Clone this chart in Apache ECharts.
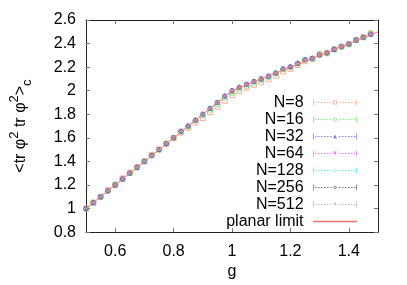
<!DOCTYPE html>
<html>
<head>
<meta charset="utf-8">
<script src="https://cdn.jsdelivr.net/npm/echarts@6/dist/echarts.min.js"></script>
<style>html,body{margin:0;padding:0;background:#fff}#c{width:407px;height:285px}</style>
</head>
<body>
<div id="c"></div>
<script>
// ---- data ----
const gValues = [0.5,0.525,0.55,0.575,0.6,0.625,0.65,0.675,0.7,0.725,0.75,0.775,0.8,0.825,0.85,0.875,0.9,0.925,0.95,0.975,
                 1.0,1.025,1.05,1.075,1.1,1.125,1.15,1.175,1.2,1.225,1.25,1.275,1.3,1.325,1.35,1.375,1.4,1.425,1.45,1.475];
const seriesNames = ['N=8','N=16','N=32','N=64','N=128','N=256','N=512'];
const n8   = [1.000,1.050,1.100,1.155,1.200,1.255,1.305,1.350,1.400,1.455,1.500,1.550,1.598,1.645,1.685,1.730,1.768,1.818,1.865,1.915,
              1.962,1.995,2.025,2.050,2.075,2.098,2.128,2.162,2.185,2.218,2.250,2.270,2.310,2.318,2.350,2.375,2.395,2.430,2.455,2.485];
const n16  = [1.000,1.052,1.098,1.150,1.205,1.250,1.300,1.348,1.402,1.450,1.500,1.552,1.600,1.652,1.695,1.745,1.790,1.838,1.885,1.938,
              1.980,2.012,2.040,2.066,2.092,2.115,2.148,2.180,2.200,2.230,2.262,2.272,2.305,2.318,2.350,2.372,2.395,2.428,2.452,2.488];
const n32  = [1.000,1.050,1.100,1.150,1.200,1.250,1.302,1.350,1.400,1.452,1.500,1.552,1.602,1.655,1.702,1.752,1.802,1.852,1.902,1.955,
              1.998,2.028,2.055,2.080,2.100,2.125,2.150,2.188,2.205,2.232,2.265,2.278,2.305,2.325,2.350,2.380,2.398,2.430,2.455,2.478];
const n64  = [1.000,1.050,1.100,1.150,1.200,1.252,1.300,1.350,1.400,1.450,1.500,1.550,1.600,1.655,1.700,1.750,1.800,1.850,1.900,1.952,
              2.000,2.028,2.053,2.078,2.102,2.122,2.148,2.185,2.200,2.230,2.262,2.272,2.300,2.318,2.350,2.372,2.395,2.432,2.452,2.478];
const n128 = [1.000,1.050,1.100,1.148,1.200,1.248,1.300,1.350,1.400,1.450,1.500,1.550,1.600,1.652,1.700,1.750,1.800,1.850,1.900,1.955,
              2.000,2.030,2.055,2.078,2.100,2.125,2.152,2.188,2.205,2.235,2.265,2.275,2.302,2.322,2.355,2.375,2.398,2.432,2.450,2.475];
const n256 = [1.000,1.050,1.100,1.150,1.200,1.250,1.300,1.350,1.400,1.450,1.500,1.550,1.600,1.655,1.700,1.750,1.800,1.850,1.900,1.955,
              2.000,2.030,2.055,2.078,2.100,2.122,2.150,2.185,2.203,2.232,2.262,2.275,2.303,2.320,2.352,2.373,2.396,2.430,2.453,2.480];
const n512 = [1.000,1.050,1.100,1.150,1.200,1.250,1.300,1.350,1.400,1.450,1.500,1.550,1.600,1.655,1.700,1.750,1.800,1.850,1.900,1.955,
              2.000,2.030,2.055,2.078,2.100,2.122,2.150,2.185,2.203,2.232,2.262,2.275,2.303,2.320,2.352,2.373,2.396,2.430,2.453,2.480];
const planarG = [0.5,0.6,0.7,0.8,0.9,1.0,1.1,1.2,1.3,1.4,1.5];
const planarV = [1.0,1.2,1.4,1.6,1.8,2.0,2.1,2.2,2.3,2.4,2.5];
const xTicks = [0.6,0.8,1.0,1.2,1.4];
const yTicks = [0.8,1.0,1.2,1.4,1.6,1.8,2.0,2.2,2.4,2.6];

// ---- styling ----
const colors = ['#ff9a7a','#55ee55','#6060ff','#ff55ff','#33eeee','#555555','#aaaaaa'];
const planarColor = '#ff7070';
const font = 'Liberation Sans, Arial, sans-serif';
const xPath = 'path://M0,0.8L0.8,0L5,4.2L9.2,0L10,0.8L5.8,5L10,9.2L9.2,10L5,5.8L0.8,10L0,9.2L4.2,5z';
const symbols = [
  {symbol:'rect', size:5, hollow:true},
  {symbol:'circle', size:5, hollow:true},
  {symbol:'triangle', size:5, hollow:false},
  {symbol:'triangle', size:5, hollow:false, rotate:180},
  {symbol:'circle', size:4, hollow:true},
  {symbol:'diamond', size:5, hollow:true},
  {symbol:xPath, size:4, hollow:false}
];
const markerPaths = [
  'M20,1h4v4h-4zM20.8,1.8v2.4h2.4v-2.4z',
  'M20,3a2,2 0 1,0 4,0a2,2 0 1,0 -4,0zM20.8,3a1.2,1.2 0 1,1 2.4,0a1.2,1.2 0 1,1 -2.4,0z',
  'M22,1l2,4h-4z',
  'M20,1h4l-2,4z',
  'M20.4,3a1.6,1.6 0 1,0 3.2,0a1.6,1.6 0 1,0 -3.2,0zM21.1,3a0.9,0.9 0 1,1 1.8,0a0.9,0.9 0 1,1 -1.8,0z',
  'M22,1l2,2l-2,2l-2,-2zM22,1.9l-1.1,1.1l1.1,1.1l1.1,-1.1z',
  'M20.4,1.4l0.6,-0.6l1,1l1,-1l0.6,0.6l-1,1l1,1l-0.6,0.6l-1,-1l-1,1l-0.6,-0.6l1,-1z'
];
function legendIcon(marker) {
  let p = 'M0,0h0.8v6h-0.8zM43.2,0h0.8v6h-0.8z';
  for (let x = 2; x < 42; x += 3) {
    if (x > 17 && x < 25) continue;
    p += 'M' + x + ',2.6h1.5v0.8h-1.5z';
  }
  return 'path://' + p + marker;
}
const allValues = [n8,n16,n32,n64,n128,n256,n512];

const series = allValues.map((vals, i) => {
  const s = symbols[i];
  return {
    name: seriesNames[i],
    type: 'scatter',
    data: gValues.map((g, k) => [g, vals[k]]),
    symbol: s.symbol,
    symbolSize: s.size,
    symbolRotate: s.rotate || 0,
    itemStyle: s.hollow
      ? {color: 'rgba(255,255,255,0)', borderColor: colors[i], borderWidth: 1}
      : {color: colors[i], borderWidth: 0},
    emphasis: {disabled: true},
    z: 2 + i
  };
});
series.push({
  name: 'planar limit',
  type: 'line',
  data: planarG.map((g, k) => [g, planarV[k]]),
  showSymbol: false,
  symbol: 'none',
  color: planarColor,
  lineStyle: {color: planarColor, width: 1},
  itemStyle: {color: planarColor},
  emphasis: {disabled: true},
  z: 20
});

const legendData = seriesNames.map((n, i) => ({
  name: n,
  icon: legendIcon(markerPaths[i]),
  itemStyle: {color: colors[i], borderWidth: 0}
}));
legendData.push({
  name: 'planar limit',
  icon: 'path://M0,2.3h44v1.4h-44z',
  itemStyle: {color: planarColor, borderWidth: 0},
  lineStyle: {color: planarColor, width: 0}
});

const frameColor = '#222';
const tickStyle = {show: true, inside: true, length: 4, lineStyle: {color: '#777', width: 1}};

const option = {
  animation: false,
  backgroundColor: '#fff',
  grid: {left: 86, right: 29, top: 20, bottom: 52, containLabel: false},
  legend: {
    orient: 'vertical',
    align: 'right',
    right: 50,
    top: 94,
    itemWidth: 44,
    itemHeight: 6,
    itemGap: 0,
    padding: 0,
    symbolKeepAspect: true,
    selectedMode: false,
    formatter: n => n + ' ',
    textStyle: {fontFamily: font, fontSize: 16, color: '#000', lineHeight: 17},
    data: legendData
  },
  xAxis: [{
    type: 'value', min: 0.5, max: 1.5,
    name: 'g', nameLocation: 'middle', nameGap: 31,
    nameTextStyle: {fontFamily: font, fontSize: 16, color: '#000'},
    axisLine: {show: true, lineStyle: {color: frameColor, width: 1}},
    axisTick: Object.assign({customValues: xTicks}, tickStyle),
    axisLabel: {customValues: xTicks, fontFamily: font, fontSize: 16, color: '#000', margin: 11,
                formatter: v => String(+v.toFixed(2))},
    splitLine: {show: false}
  }, {
    type: 'value', min: 0.5, max: 1.5, position: 'top',
    axisLine: {show: true, lineStyle: {color: frameColor, width: 1}},
    axisTick: Object.assign({customValues: xTicks}, tickStyle),
    axisLabel: {show: false},
    splitLine: {show: false}
  }],
  yAxis: [{
    type: 'value', min: 0.8, max: 2.6,
    name: '{m|<tr φ}{s|2}{m| tr φ}{s|2}{m|>}{b|c}',
    nameLocation: 'middle', nameGap: 52, nameRotate: 90,
    nameTextStyle: {
      fontFamily: font, fontSize: 16, color: '#000',
      rich: {
        m: {fontFamily: font, fontSize: 16, color: '#000', lineHeight: 26},
        s: {fontFamily: font, fontSize: 13, color: '#000', lineHeight: 13, verticalAlign: 'top'},
        b: {fontFamily: font, fontSize: 13, color: '#000', lineHeight: 13, verticalAlign: 'bottom'}
      }
    },
    axisLine: {show: true, lineStyle: {color: frameColor, width: 1}},
    axisTick: Object.assign({customValues: yTicks}, tickStyle),
    axisLabel: {customValues: yTicks, fontFamily: font, fontSize: 16, color: '#000', margin: 10,
                formatter: v => String(+v.toFixed(2))},
    splitLine: {show: false}
  }, {
    type: 'value', min: 0.8, max: 2.6, position: 'right',
    axisLine: {show: true, lineStyle: {color: frameColor, width: 1}},
    axisTick: Object.assign({customValues: yTicks}, tickStyle),
    axisLabel: {show: false},
    splitLine: {show: false}
  }],
  series: series
};
const chart = echarts.init(document.getElementById('c'), null, {renderer: 'canvas'});
chart.setOption(option);
</script>
</body>
</html>
